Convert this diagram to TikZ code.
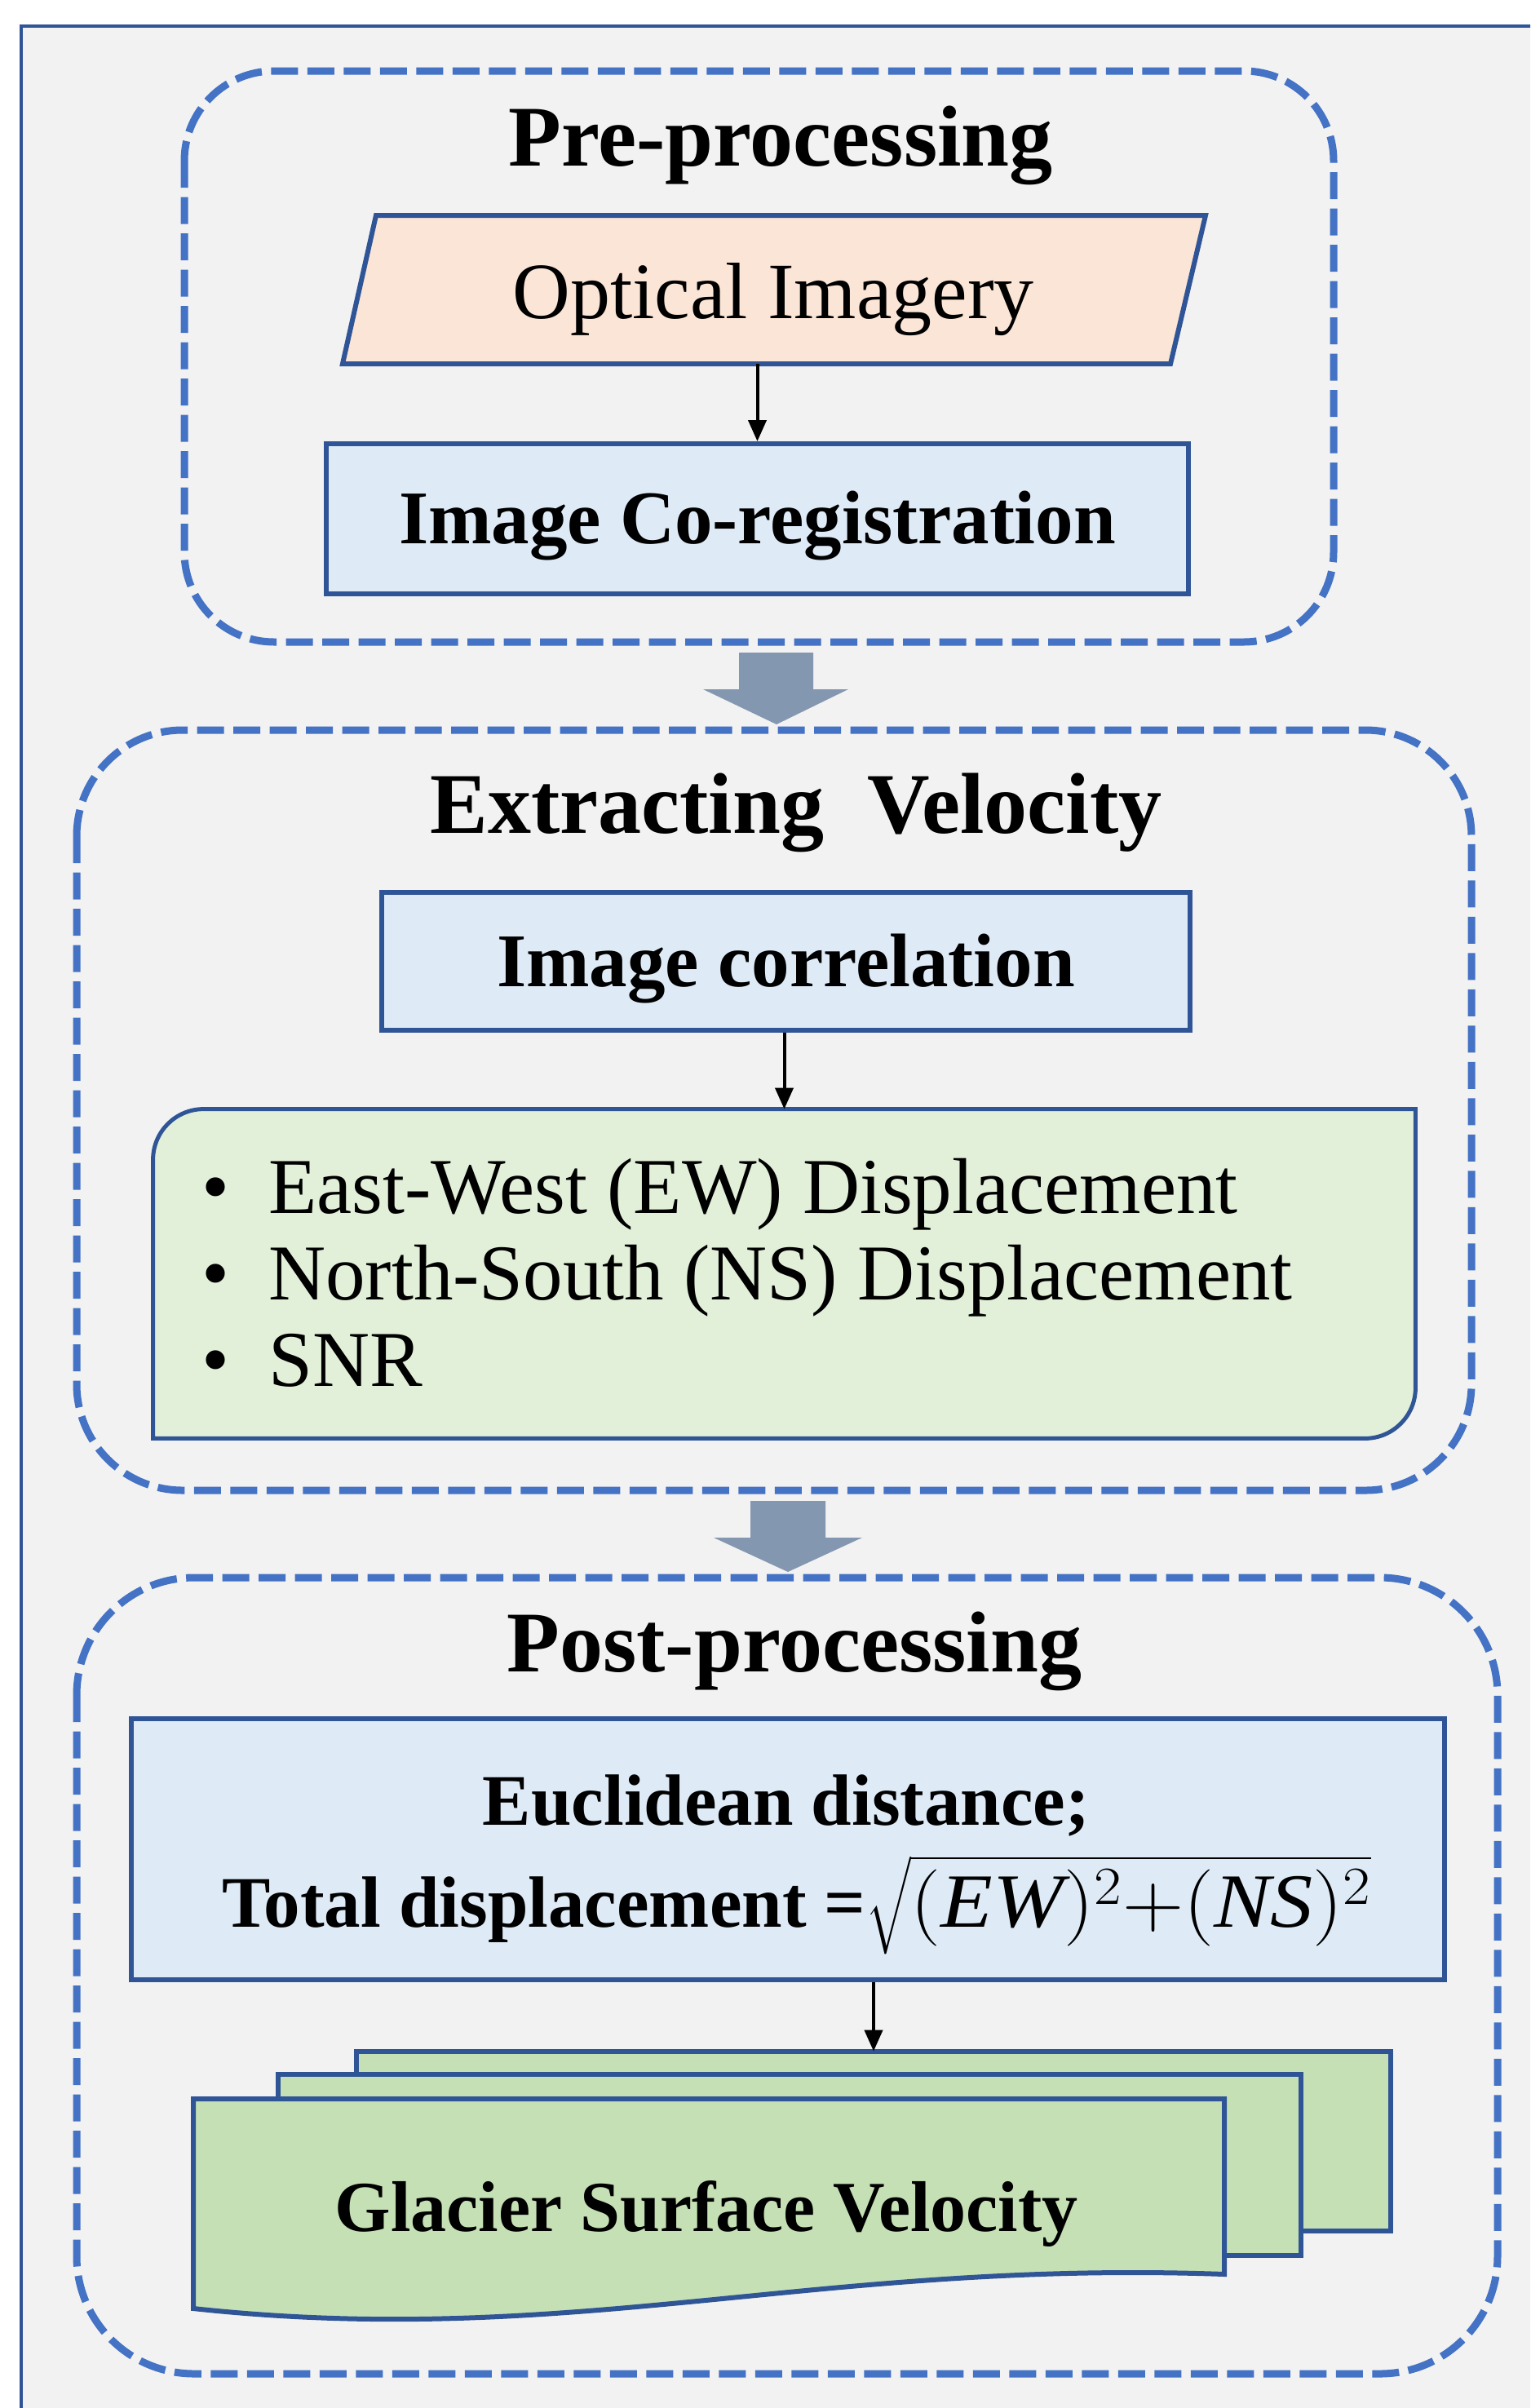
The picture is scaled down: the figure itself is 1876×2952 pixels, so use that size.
\RequirePackage{fix-cm}
\documentclass[tikz,border=0pt]{standalone}
\usepackage{exscale}
\usepackage{graphicx}
\usepackage{fontspec}
\setmainfont{Liberation Serif}
\usetikzlibrary{arrows.meta}
\definecolor{bggray}{HTML}{F2F2F2}
\definecolor{frameblue}{HTML}{2F5597}
\definecolor{boxblue}{HTML}{2F5597}
\definecolor{dashblue}{HTML}{4472C4}
\definecolor{arrowgray}{HTML}{8497B0}
\definecolor{lblue}{HTML}{DEEBF7}
\definecolor{peach}{HTML}{FBE5D6}
\definecolor{lgreen}{HTML}{E2F0D9}
\definecolor{docgreen}{HTML}{C5E0B4}
\newcommand{\bulmark}{\makebox[41pt][l]{•}}
\begin{document}
\begin{tikzpicture}[x=0.5pt,y=0.5pt,
  grp/.style={draw=dashblue, line width=4.5pt, dash pattern=on 16.5pt off 5.75pt},
  ttl/.style={inner sep=0pt, font=\fontsize{53}{60}\selectfont\bfseries},
  box/.style={draw=boxblue, fill=lblue, line width=3pt, inner sep=0pt},
  arr/.style={line width=2pt, -{Triangle[length=13pt,width=11pt]}},
  garrow/.style={fill=arrowgray},
  docsheet/.style={fill=docgreen, draw=boxblue, line width=3pt}
]
\useasboundingbox (0,0) rectangle (1876,-2952);
\begin{scope}
  \clip (0,0) rectangle (1876,-2952);
  \fill[white] (0,0) rectangle (1876,-2952);
  \filldraw[fill=bggray, draw=frameblue, line width=2pt] (26,-32) rectangle (1960,-3060);
\end{scope}

% group frames
\draw[grp, rounded corners=55pt] (226,-87) rectangle (1635,-787);
\draw[grp, rounded corners=65pt] (94,-895) rectangle (1804,-1827);
\draw[grp, rounded corners=72pt] (94,-1934) rectangle (1836,-2910);

% titles
\node[ttl] (t1) at (957,-178) {Pre-processing};
\node[ttl] (t2) at (976,-996) {Extracting\ \ Velocity};
\node[ttl] (t3) at (974,-2024) {Post-processing};

% optical imagery
\filldraw[fill=peach, draw=boxblue, line width=3pt] (461,-264) -- (1478,-264) -- (1435,-446) -- (420,-446) -- cycle;
\node[inner sep=0pt, text height=32pt, text depth=0pt, font=\fontsize{49}{55}\selectfont] (opt) at (948,-358) {Optical Imagery};
\coordinate (optbot) at (948,-446);

% co-registration
\node[box, text height=30.5pt, text depth=0pt, minimum width=528.5pt, minimum height=92pt, font=\fontsize{46.5}{52}\selectfont\bfseries] (coreg) at (928.5,-636) {Image Co-registration};
\draw[arr] (optbot -| coreg.north) -- (coreg.north);

% gray arrow 1
\fill[garrow] (906,-800) -- (997,-800) -- (997,-845) -- (1040,-845) -- (952,-888) -- (862,-845) -- (906,-845) -- cycle;

% image correlation
\node[box, text height=30.5pt, text depth=0pt, minimum width=495.5pt, minimum height=84.5pt, font=\fontsize{46.5}{52}\selectfont\bfseries] (corr) at (963.5,-1178.5) {Image correlation};

% bullet box
\node[inner sep=0pt, minimum width=773.5pt, minimum height=201.5pt] (bul) at (961.5,-1561.5) {};
\filldraw[fill=lgreen, draw=boxblue, line width=2.5pt]
  ([yshift=-31pt]bul.north west) arc[start angle=180, end angle=90, radius=31pt]
  -- (bul.north east) -- ([yshift=31pt]bul.south east)
  arc[start angle=0, end angle=-90, radius=31pt] -- (bul.south west) -- cycle;
\node[anchor=west, align=left, inner sep=0pt, font=\fontsize{48.5}{53}\selectfont] (bultext) at (247,-1560)
  {\bulmark East-West (EW) Displacement\\ \bulmark North-South (NS) Displacement\\ \bulmark SNR};
\draw[arr] (corr.south -| bul.north) -- (bul.north);

% gray arrow 2
\fill[garrow] (920,-1840) -- (1012,-1840) -- (1012,-1885) -- (1057,-1885) -- (966,-1927) -- (875,-1885) -- (920,-1885) -- cycle;

% Euclidean box
\node[box, minimum width=805pt, minimum height=160pt] (eucl) at (966,-2267) {};
\node[inner sep=0pt, text height=29.5pt, text depth=0pt, font=\fontsize{44.5}{50}\selectfont\bfseries] (eu1) at (964,-2208) {Euclidean distance;};
\node[inner sep=0pt, font=\fontsize{44.5}{54}\selectfont\bfseries, anchor=base] (eu2) at (977,-2362)
  {Total displacement =\smash{\fontsize{47}{54}\selectfont\scalebox{1.11}[1]{$\sqrt{(\mathit{EW})^2{+}(\mathit{NS})^2}$}}};

% document stack
\node[inner sep=0pt, minimum width=634pt, minimum height=110pt] (back) at (1071,-2625) {};
\filldraw[docsheet] (back.north west) rectangle (back.south east);
\filldraw[docsheet] (341,-2543) rectangle (1595,-2765);
\filldraw[docsheet] (237,-2573) -- (1501,-2573) -- (1501,-2788)
  .. controls (1000,-2770) and (700,-2880) .. (237,-2830) -- cycle;
\node[inner sep=0pt, text height=29pt, text depth=0pt, font=\fontsize{44}{50}\selectfont\bfseries] (gsv) at (866,-2706) {Glacier Surface Velocity};
\draw[arr] (eucl.south -| back.north) -- (back.north);
\end{tikzpicture}
\end{document}
